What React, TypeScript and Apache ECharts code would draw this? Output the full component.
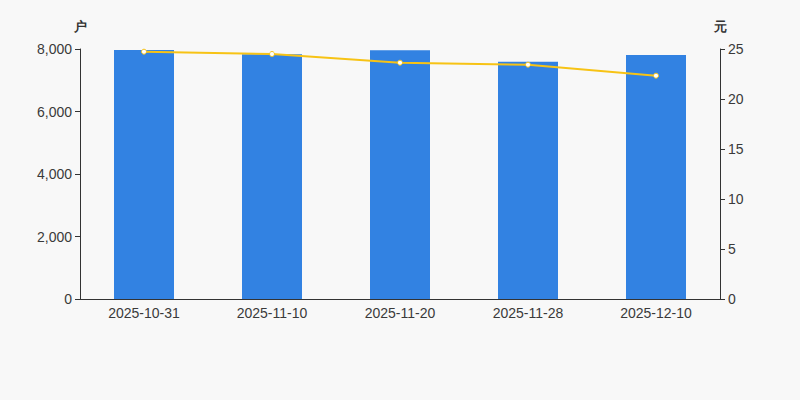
import React, { useEffect, useRef } from "react";
import * as echarts from "echarts";

const categories = ["2025-10-31", "2025-11-10", "2025-11-20", "2025-11-28", "2025-12-10"];
const holders = [7968, 7835, 7958, 7594, 7808];
const prices = [24.73, 24.5, 23.63, 23.43, 22.33];

export default function App() {
  const ref = useRef<HTMLDivElement>(null);
  useEffect(() => {
    if (!ref.current) return;
    const chart = echarts.init(ref.current, null, { renderer: "svg" });
    const labelColor = "#3a3a3a";
    chart.setOption({
      animation: false,
      backgroundColor: "#f8f8f8",
      grid: { left: 80, right: 80, top: 49, bottom: 101 },
      xAxis: {
        type: "category",
        data: categories,
        axisLine: { lineStyle: { color: "#333" } },
        axisTick: { lineStyle: { color: "#333" } },
        axisLabel: { color: labelColor, fontSize: 14, margin: 7 },
      },
      yAxis: [
        {
          type: "value",
          name: "户",
          min: 0,
          max: 8000,
          interval: 2000,
          nameTextStyle: { color: "#333", fontSize: 13, fontWeight: "bold", align: "center" },
          nameGap: 16,
          axisLine: { show: true, lineStyle: { color: "#333" } },
          axisTick: { show: true, lineStyle: { color: "#333" } },
          splitLine: { show: false },
          axisLabel: {
            color: labelColor,
            fontSize: 14,
            formatter: (v: number) => v.toLocaleString("en-US"),
          },
        },
        {
          type: "value",
          name: "元",
          min: 0,
          max: 25,
          interval: 5,
          nameTextStyle: { color: "#333", fontSize: 13, fontWeight: "bold", align: "center" },
          nameGap: 16,
          axisLine: { show: true, lineStyle: { color: "#333" } },
          axisTick: { show: true, lineStyle: { color: "#333" } },
          splitLine: { show: false },
          axisLabel: { color: labelColor, fontSize: 14 },
        },
      ],
      series: [
        {
          type: "bar",
          data: holders,
          barWidth: 60,
          itemStyle: { color: "#3282e2" },
          yAxisIndex: 0,
        },
        {
          type: "line",
          data: prices,
          yAxisIndex: 1,
          symbol: "circle",
          symbolSize: 5,
          lineStyle: { color: "#f7c315", width: 2 },
          itemStyle: { color: "#ffffff", borderColor: "#f7c315", borderWidth: 1 },
        },
      ],
    });
    return () => chart.dispose();
  }, []);
  return <div ref={ref} style={{ width: 800, height: 400, position: "absolute", left: 0, top: 0 }} />;
}
